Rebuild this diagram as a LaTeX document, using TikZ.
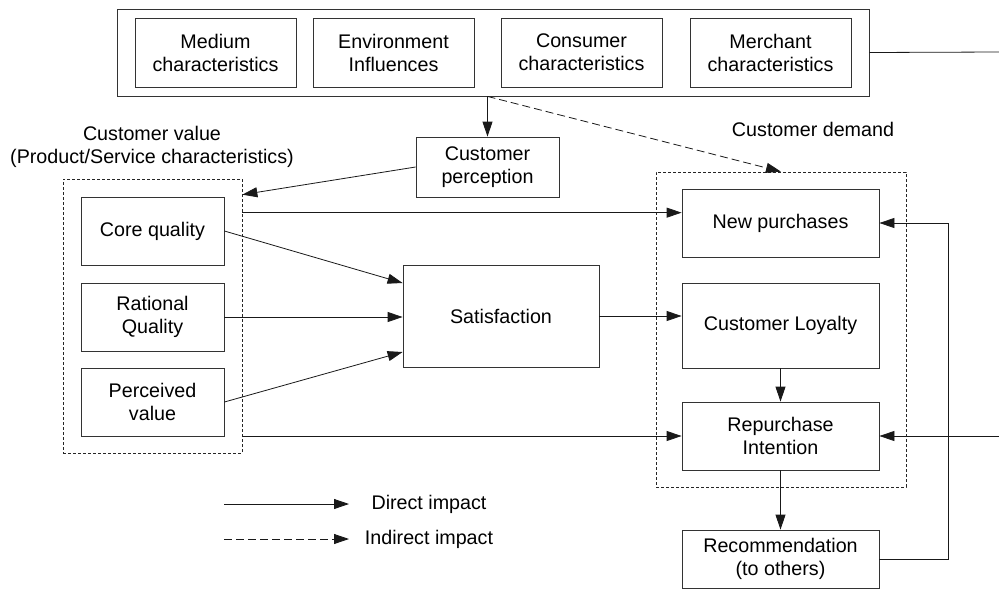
\documentclass[tikz,border=0pt]{standalone}
\usepackage{fontspec}
\setmainfont{Liberation Sans}
\usetikzlibrary{arrows.meta}
\begin{document}
\begin{tikzpicture}[x=1pt,y=-1pt,
  every node/.style={font=\fontsize{19.7}{23}\selectfont},
  box/.style={draw=black!80, line width=0.8pt, align=center, inner sep=0pt},
  group/.style={draw=black!85, line width=0.7pt, dash pattern=on 3pt off 2pt, inner sep=0pt},
  link/.style={draw=black!90, line width=0.8pt},
  arr/.style={link, -{Triangle[length=15pt,width=10pt]}},
  darr/.style={arr, dash pattern=on 8pt off 4pt},
]
\useasboundingbox (0,0) rectangle (999,590);

% influencing factors
\node[box, minimum width=752pt, minimum height=87pt] (top) at (493,52.5) {};
\node[box, minimum width=161pt, minimum height=69pt] (medium) at (215.5,52.5) {Medium\\characteristics};
\node[box, minimum width=161pt, minimum height=69pt] (env) at (393.5,52.5) {Environment\\Influences};
\node[box, minimum width=161pt, minimum height=69pt] (consumer) at (581.5,52.5) {Consumer\\characteristics};
\node[box, minimum width=161pt, minimum height=69pt] (merchant) at (770.5,52.5) {Merchant\\characteristics};

\node[box, minimum width=143pt, minimum height=60pt] (perc) at (487.5,167) {Customer\\perception};

% customer value group
\node[align=center] (cvlabel) at (152,147) {Customer value\\(Product/Service characteristics)};
\node[group, minimum width=179pt, minimum height=274pt] (cv) at (152.5,316) {};
\node[box, minimum width=143pt, minimum height=68pt] (core) at (152.5,231) {Core quality};
\node[box, minimum width=143pt, minimum height=68pt] (rational) at (152.5,317) {Rational\\Quality};
\node[box, minimum width=143pt, minimum height=68pt] (perceived) at (152.5,402) {Perceived\\value};

\node[box, minimum width=196pt, minimum height=102pt] (sat) at (501,316) {Satisfaction};

% customer demand group
\node (cdlabel) at (813,129) {Customer demand};
\node[group, minimum width=250pt, minimum height=315pt] (cd) at (781,329.5) {};
\node[box, minimum width=197pt, minimum height=68pt] (np) at (780.5,223) {New purchases};
\node[box, minimum width=197pt, minimum height=85pt] (loy) at (780.5,325.5) {Customer Loyalty};
\node[box, minimum width=197pt, minimum height=68pt] (rep) at (780.5,436) {Repurchase\\Intention};
\node[box, minimum width=197pt, minimum height=58pt] (rec) at (780.5,559) {Recommendation\\(to others)};

% connectors
\coordinate (split) at (perc.north |- top.south);
\draw[arr] (split) -- (perc.north);
\draw[darr] (split) -- (cd.north);
\draw[arr] (perc.west) -- ([yshift=-16pt]cv.north east);

\draw[arr] (core.east) -- ([yshift=33pt]sat.west);
\draw[arr] (rational.east) -- (rational.east -| sat.west);
\draw[arr] (perceived.east) -- ([yshift=-36pt]sat.west);

\coordinate (g1) at ([yshift=-34pt]cv.north east);
\draw[arr] (g1) -- (g1 -| np.west);
\draw[arr] (rep.west -| cv.east) -- (rep.west);
\draw[arr] (sat.east) -- (sat.east -| loy.west);
\draw[arr] (loy.south) -- (rep.north);
\draw[arr] (rep.south) -- (rec.north);

\coordinate (fb) at (948,0);
\draw[arr] (rec.east) -- (rec.east -| fb) -- (np.east -| fb) -- (np.east);

\coordinate (edgeT) at (999,52);
\coordinate (edgeR) at (999,436);
\draw[link] (top.east) -- (edgeT);
\draw[arr] (edgeR) -- (rep.east);

% legend
\coordinate (ls1) at (224,504);
\coordinate (le1) at (349,504);
\coordinate (ls2) at (224,539);
\coordinate (le2) at (349,539);
\draw[arr] (ls1) -- (le1);
\draw[darr] (ls2) -- (le2);
\node (lt1) at (429,504) {Direct impact};
\node (lt2) at (429,539) {Indirect impact};
\end{tikzpicture}
\end{document}
